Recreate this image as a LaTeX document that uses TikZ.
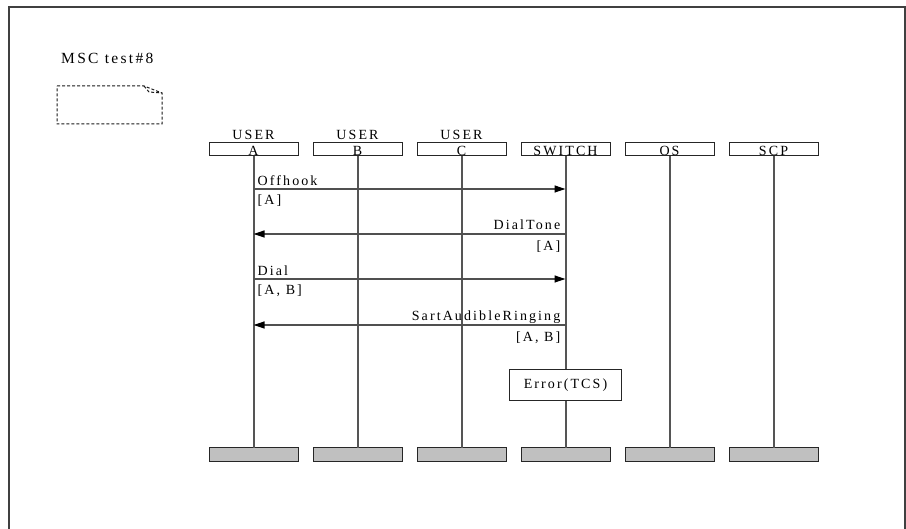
\documentclass[tikz,border=0pt]{standalone}
\usepackage{fontspec}
\setmainfont{Liberation Serif}[LetterSpace=15]
\usetikzlibrary{arrows.meta,positioning}
\definecolor{lifegray}{RGB}{85,85,85}
\definecolor{msggray}{RGB}{80,80,80}
\definecolor{barfill}{RGB}{192,192,192}
\tikzset{
  every node/.style={font=\fontsize{14}{16}\selectfont},
  head/.style={draw=black!85, line width=1pt, minimum width=89pt, inner sep=0pt,
               outer sep=0pt, text height=13pt, text depth=0pt, anchor=north},
  endbar/.style={draw=black!85, line width=1pt, fill=barfill, minimum width=89pt,
                 minimum height=14pt, inner sep=0pt, outer sep=0pt},
  action/.style={draw=black!85, line width=1pt, fill=white, minimum width=112pt,
                 minimum height=31pt, inner sep=0pt, outer sep=0pt},
  life/.style={draw=lifegray, line width=2pt},
  msg/.style={-{Triangle[length=11pt,width=7pt,color=black]}, draw=msggray, line width=1.2pt},
  msglabel/.style={inner sep=0pt},
  frame/.style={draw=black!75, line width=1.5pt},
  note/.style={draw=black!90, dashed, dash pattern=on 3pt off 2pt, line width=1pt}
}

\begin{document}
\begin{tikzpicture}[x=1pt, y=-1pt]
  \useasboundingbox (0,0) rectangle (906,529);
  \draw[frame] (9,529) -- (9,7) -- (905,7) -- (905,529);

  % title and empty note
  \node[anchor=base west, inner sep=0pt, font=\fontsize{15.5}{17}\selectfont] (title)
    at (61,64) {MSC test\#8};
  \draw[note] (57,86) -- (144,86) -- (162,93) -- (162,124) -- (57,124) -- cycle;
  \draw[note] (144,86) -- (149,92) -- (162,93);

  % instance heads
  \node[head] (hA) at (253.5,143) {A};
  \node[head, right=15pt of hA] (hB) {B};
  \node[head, right=15pt of hB] (hC) {C};
  \node[head, right=15pt of hC] (hSW) {SWITCH};
  \node[head, right=15pt of hSW] (hOS) {OS};
  \node[head, right=15pt of hOS] (hSCP) {SCP};
  \node[anchor=base, inner sep=0pt] (uA) at ([yshift=3pt]hA.north) {USER};
  \node[anchor=base, inner sep=0pt] (uB) at ([yshift=3pt]hB.north) {USER};
  \node[anchor=base, inner sep=0pt] (uC) at ([yshift=3pt]hC.north) {USER};

  % instance ends
  \node[endbar, below=292pt of hA] (eA) {};
  \node[endbar, below=292pt of hB] (eB) {};
  \node[endbar, below=292pt of hC] (eC) {};
  \node[endbar, below=292pt of hSW] (eSW) {};
  \node[endbar, below=292pt of hOS] (eOS) {};
  \node[endbar, below=292pt of hSCP] (eSCP) {};

  % lifelines
  \draw[life] (hA) -- (eA);
  \draw[life] (hB) -- (eB);
  \draw[life] (hC) -- (eC);
  \draw[life] (hSW) -- (eSW);
  \draw[life] (hOS) -- (eOS);
  \draw[life] (hSCP) -- (eSCP);

  \node[action, below=214pt of hSW] (err) {Error(TCS)};

  % messages
  \coordinate (m1) at (0,189);
  \coordinate (m2) at (0,234);
  \coordinate (m3) at (0,279);
  \coordinate (m4) at (0,325);
  \draw[msg] (hA |- m1) -- (hSW |- m1);
  \draw[msg] (hSW |- m2) -- (hA |- m2);
  \draw[msg] (hA |- m3) -- (hSW |- m3);
  \draw[msg] (hSW |- m4) -- (hA |- m4);

  \node[msglabel, anchor=base west] (l1) at ([xshift=4pt,yshift=3pt]hA |- m1) {Offhook};
  \node[msglabel, anchor=base west] (p1) at ([xshift=4pt,yshift=-16pt]hA |- m1) {[A]};
  \node[msglabel, anchor=base east] (l2) at ([xshift=-5pt,yshift=4pt]hSW |- m2) {DialTone};
  \node[msglabel, anchor=base east] (p2) at ([xshift=-5pt,yshift=-17pt]hSW |- m2) {[A]};
  \node[msglabel, anchor=base west] (l3) at ([xshift=4pt,yshift=3pt]hA |- m3) {Dial};
  \node[msglabel, anchor=base west] (p3) at ([xshift=4pt,yshift=-16pt]hA |- m3) {[A, B]};
  \node[msglabel, anchor=base east] (l4) at ([xshift=-5pt,yshift=4pt]hSW |- m4) {SartAudibleRinging};
  \node[msglabel, anchor=base east] (p4) at ([xshift=-5pt,yshift=-17pt]hSW |- m4) {[A, B]};
\end{tikzpicture}
\end{document}
